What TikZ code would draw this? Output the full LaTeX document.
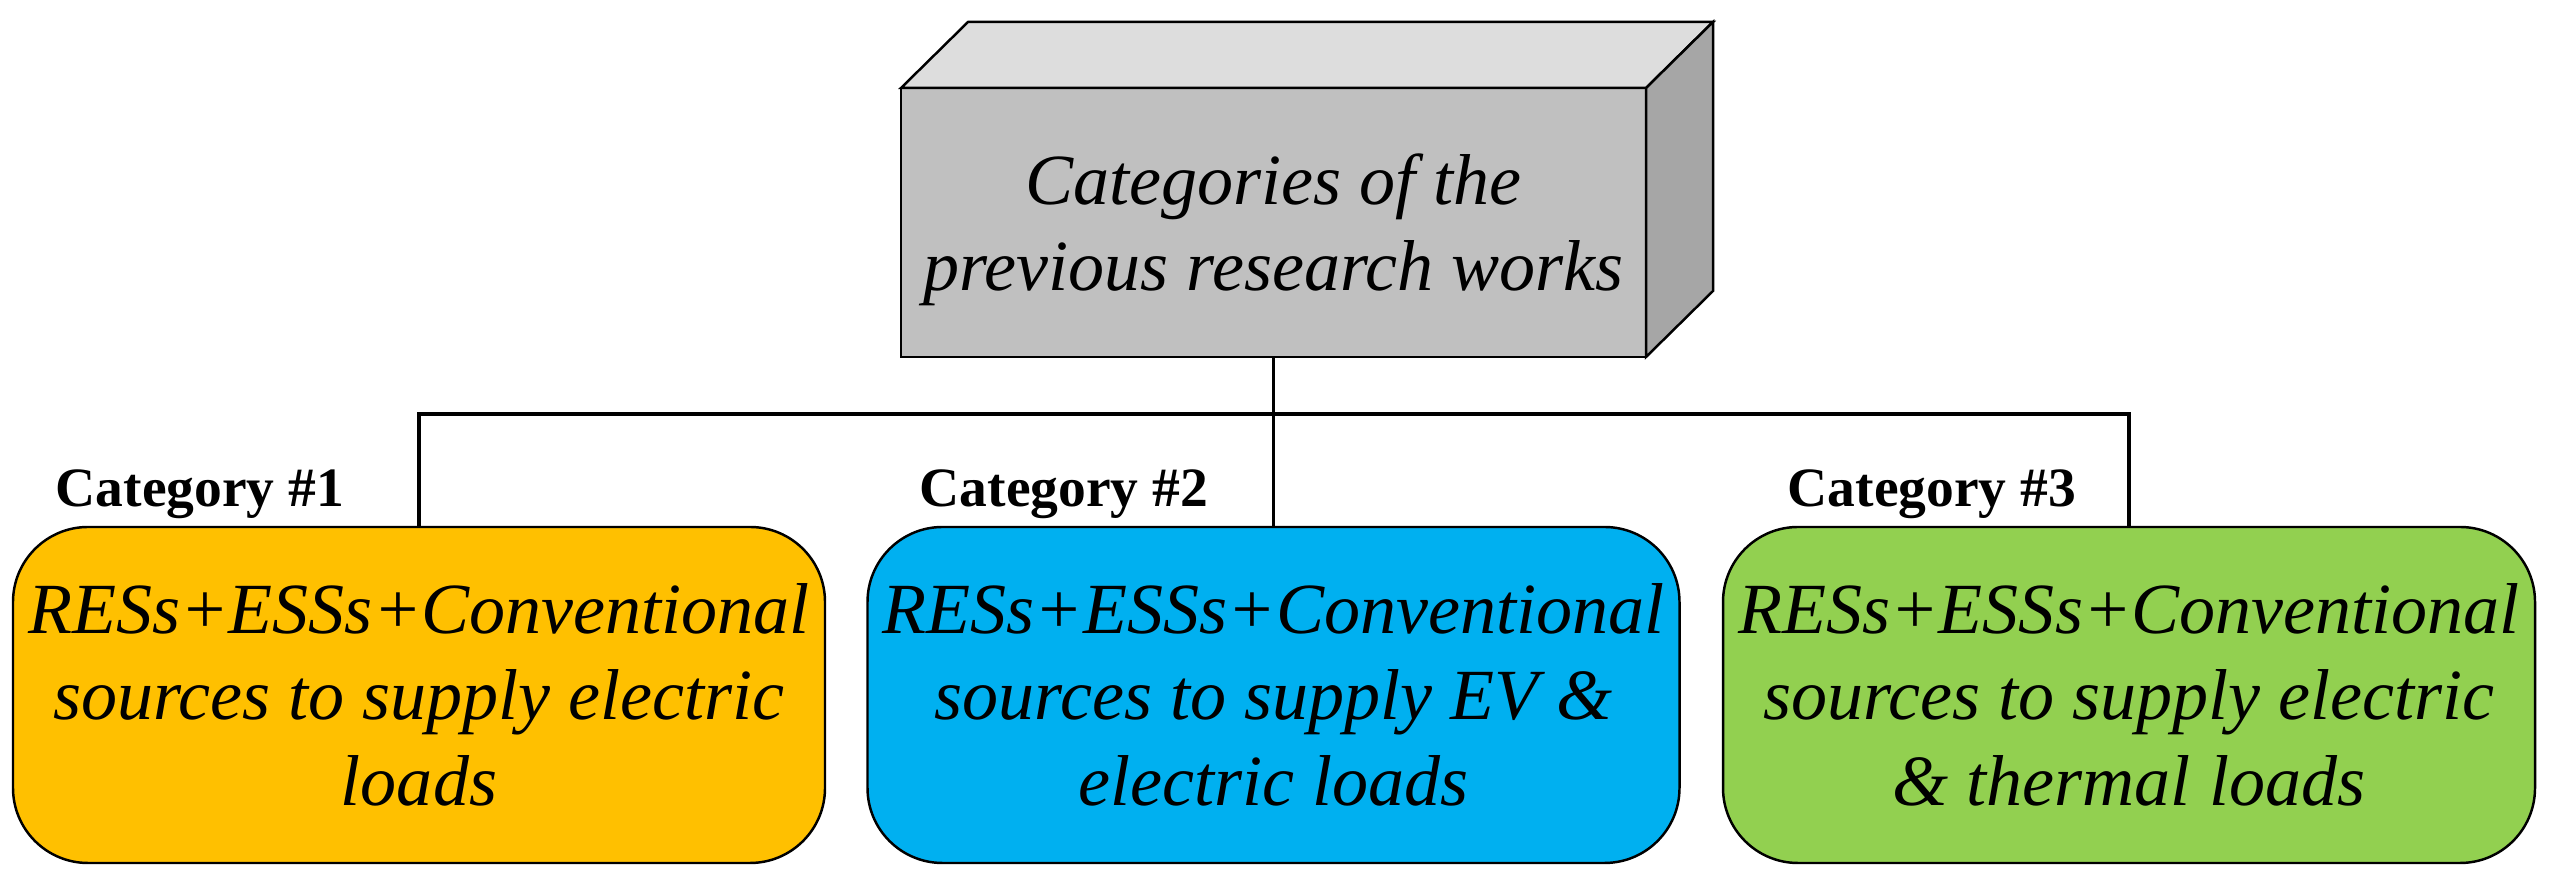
\documentclass[tikz,border=0pt]{standalone}
\usepackage{fontspec}
\setmainfont{Liberation Serif}
\usetikzlibrary{calc}
\definecolor{catorange}{HTML}{FFC000}
\definecolor{catblue}{HTML}{00B0F0}
\definecolor{catgreen}{HTML}{92D050}
\definecolor{frontgray}{HTML}{C0C0C0}
\definecolor{topgray}{HTML}{DDDDDD}
\definecolor{sidegray}{HTML}{A6A6A6}

\begin{document}
\begin{tikzpicture}[
    catbox/.style={draw, line width=0.7pt, rounded corners=0.75cm, minimum width=8.12cm,
        minimum height=3.36cm, align=center, outer sep=0pt,
        font=\fontsize{20.5}{24.5}\selectfont\itshape},
    catlabel/.style={anchor=base west, inner sep=0pt, font=\fontsize{15.8}{18}\selectfont\bfseries},
    link/.style={line width=0.9pt}
]
    \def\dx{0.67}
    \def\dy{0.66}
    \useasboundingbox (0, 0) rectangle (25.55, 8.87);

    % block on top
    \node[draw, fill=frontgray, line width=0.7pt, minimum width=7.45cm, minimum height=2.69cm,
        align=center, outer sep=0pt, text depth=0pt,
        font=\fontsize{20.5}{24.5}\selectfont\itshape] (works) at (12.735, 6.645)
        {Categories of the\\previous research works};
    \draw[fill=topgray, line width=0.7pt] (works.north west) -- ++(\dx, \dy)
        -- ($(works.north east) + (\dx, \dy)$) -- (works.north east) -- cycle;
    \draw[fill=sidegray, line width=0.7pt] (works.north east) -- ++(\dx, \dy)
        -- ($(works.south east) + (\dx, \dy)$) -- (works.south east) -- cycle;

    % categories
    \node[catbox, fill=catorange] (cat1) at (4.19, 1.92)
        {RESs+ESSs+Conventional\\sources to supply electric\\loads};
    \node[catbox, fill=catblue] (cat2) at (12.735, 1.92)
        {RESs+ESSs+Conventional\\sources to supply EV \&\\electric loads};
    \node[catbox, fill=catgreen] (cat3) at (21.29, 1.92)
        {RESs+ESSs+Conventional\\sources to supply electric\\\& thermal loads};

    \node[catlabel] (lab1) at (0.55, 3.80) {Category \#1};
    \node[catlabel] (lab2) at (9.19, 3.80) {Category \#2};
    \node[catlabel] (lab3) at (17.87, 3.80) {Category \#3};

    \coordinate (bus) at (12.735, 4.73);
    \draw[link] (works.south) -- (cat2.north);
    \draw[link] (cat1.north) |- (bus) -| (cat3.north);
\end{tikzpicture}
\end{document}
